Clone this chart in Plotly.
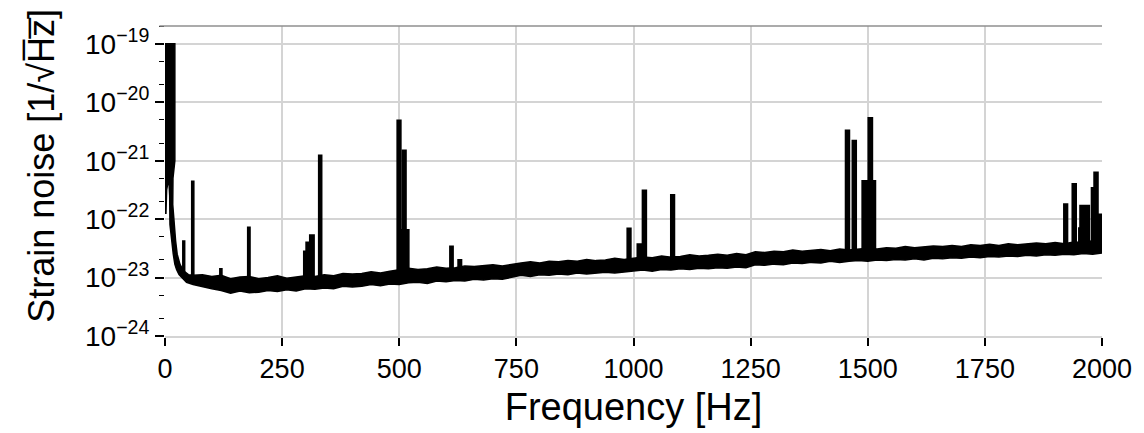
import numpy as np
import plotly.graph_objects as go

# ---------------- data ----------------
# upper edge of the noise band (frequency in Hz, log10 strain)
upper_freq = [0, 21, 21, 17, 16.5, 19, 22.6, 26, 31.8, 39, 50,
              60, 80, 100, 120, 140, 160, 180, 200, 220, 240, 260, 280, 300, 320, 340, 360,
              380, 400, 420, 440, 460, 480, 500, 520, 540, 560, 580, 600, 620, 640, 660, 680,
              700, 720, 740, 760, 780, 800, 820, 840, 860, 880, 900, 920, 940, 960, 980, 1000,
              1020, 1040, 1060, 1080, 1100, 1120, 1140, 1160, 1180, 1200, 1220, 1240, 1260,
              1280, 1300, 1320, 1340, 1360, 1380, 1400, 1420, 1440, 1460, 1480, 1500, 1520,
              1540, 1560, 1580, 1600, 1620, 1640, 1660, 1680, 1700, 1720, 1740, 1760, 1780,
              1800, 1820, 1840, 1860, 1880, 1900, 1920, 1940, 1960, 1980, 2000]
upper_log = [-19.0, -19.0, -21.0, -21.3, -21.75, -22.09, -22.37, -22.6, -22.77, -22.88, -22.95,
             -22.96, -22.95, -22.98, -22.96, -23.02, -22.99, -22.98, -23.02, -23.00, -22.97,
             -23.01, -22.99, -22.97, -22.98, -22.95, -22.97, -22.93, -22.94, -22.93, -22.90,
             -22.92, -22.89, -22.87, -22.84, -22.86, -22.85, -22.82, -22.84, -22.83, -22.80,
             -22.81, -22.80, -22.78, -22.80, -22.77, -22.75, -22.73, -22.75, -22.72, -22.73,
             -22.71, -22.72, -22.69, -22.71, -22.70, -22.67, -22.69, -22.67, -22.65, -22.66,
             -22.63, -22.65, -22.64, -22.61, -22.63, -22.62, -22.60, -22.62, -22.59, -22.61,
             -22.56, -22.57, -22.55, -22.56, -22.53, -22.55, -22.54, -22.52, -22.54, -22.51,
             -22.53, -22.52, -22.50, -22.51, -22.49, -22.50, -22.47, -22.49, -22.48, -22.46,
             -22.47, -22.45, -22.47, -22.44, -22.45, -22.43, -22.45, -22.42, -22.44, -22.43,
             -22.41, -22.42, -22.40, -22.42, -22.39, -22.40, -22.37, -22.38]
# lower edge of the noise band
lower_freq = [0, 2, 3.5, 8, 10, 10.6, 14, 17.7, 21, 24.7, 30, 35, 46,
              60, 80, 100, 120, 140, 160, 180, 200, 220, 240, 260, 280, 300, 320, 340, 360,
              380, 400, 420, 440, 460, 480, 500, 520, 540, 560, 580, 600, 620, 640, 660, 680,
              700, 720, 740, 760, 780, 800, 820, 840, 860, 880, 900, 920, 940, 960, 980, 1000,
              1020, 1040, 1060, 1080, 1100, 1120, 1140, 1160, 1180, 1200, 1220, 1240, 1260,
              1280, 1300, 1320, 1340, 1360, 1380, 1400, 1420, 1440, 1460, 1480, 1500, 1520,
              1540, 1560, 1580, 1600, 1620, 1640, 1660, 1680, 1700, 1720, 1740, 1760, 1780,
              1800, 1820, 1840, 1860, 1880, 1900, 1920, 1940, 1960, 1980, 2000]
lower_log = [-21.9, -21.9, -21.5, -21.3, -21.6, -22.09, -22.37, -22.6, -22.77, -22.86, -22.95,
             -22.99, -23.08,
             -23.12, -23.16, -23.19, -23.22, -23.27, -23.23, -23.26, -23.25, -23.22, -23.24,
             -23.21, -23.23, -23.19, -23.20, -23.18, -23.19, -23.15, -23.16, -23.15, -23.12,
             -23.14, -23.11, -23.12, -23.09, -23.08, -23.10, -23.06, -23.07, -23.05, -23.06,
             -23.03, -23.04, -23.02, -23.03, -23.00, -22.96, -22.98, -22.95, -22.96, -22.94,
             -22.95, -22.92, -22.94, -22.93, -22.91, -22.92, -22.90, -22.89, -22.87, -22.89,
             -22.86, -22.87, -22.85, -22.86, -22.84, -22.85, -22.83, -22.84, -22.82, -22.83,
             -22.78, -22.79, -22.77, -22.78, -22.75, -22.76, -22.74, -22.75, -22.72, -22.74,
             -22.72, -22.71, -22.72, -22.70, -22.71, -22.69, -22.70, -22.68, -22.70, -22.67,
             -22.68, -22.66, -22.67, -22.65, -22.66, -22.64, -22.65, -22.63, -22.64, -22.62,
             -22.63, -22.61, -22.62, -22.60, -22.61, -22.59, -22.60, -22.58]

# spectral lines: start / end frequency (Hz), peak and foot amplitude (1/sqrt(Hz))
spike_lo = [38.5, 57.5, 117.5, 177, 296.6, 301.6, 309.4, 328.5, 496, 501, 507, 608.5, 626,
            987, 1008.5, 1019.5, 1080, 1453, 1467.5, 1488.5, 1501.5, 1509, 1919, 1937, 1951,
            1953.5, 1978, 1983.5, 1988]
spike_hi = [41.5, 61, 121, 181, 301.6, 309.4, 317.8, 334, 503, 520, 514, 614.5, 632.5,
            994, 1017, 1027, 1087, 1460.5, 1475, 1498.5, 1509.5, 1516, 1926, 1944.5, 1956,
            1972.5, 1985, 1991, 1999]
spike_top = [4.2e-23, 4.4e-22, 1.4e-23, 7.2e-23, 2.8e-23, 4.0e-23, 5.3e-23, 1.23e-21, 4.9e-21,
             6.5e-23, 1.5e-21, 3.4e-23, 2.0e-23, 6.9e-23, 3.7e-23, 3.1e-22, 2.6e-22, 3.3e-21,
             2.2e-21, 4.5e-22, 5.4e-21, 4.5e-22, 1.8e-22, 4.0e-22, 7.0e-23, 1.7e-22, 3.4e-22,
             6.3e-22, 1.2e-22]
spike_base = [1.0e-23, 1.0e-23, 8e-24, 8e-24, 8e-24, 8e-24, 8e-24, 8e-24, 9e-24, 9e-24, 9e-24,
              1.0e-23, 1.0e-23, 1.5e-23, 1.5e-23, 1.5e-23, 1.6e-23, 2.2e-23, 2.2e-23, 2.2e-23,
              2.2e-23, 2.2e-23, 3.0e-23, 3.0e-23, 3.0e-23, 3.0e-23, 3.0e-23, 3.0e-23, 3.0e-23]

x_ticks = [0, 250, 500, 750, 1000, 1250, 1500, 1750, 2000]
y_ticks = [1e-24, 1e-23, 1e-22, 1e-21, 1e-20, 1e-19]
y_tick_text = ["10<sup>\u221224</sup>", "10<sup>\u221223</sup>", "10<sup>\u221222</sup>",
               "10<sup>\u221221</sup>", "10<sup>\u221220</sup>", "10<sup>\u221219</sup>"]
y_top = 2.02e-19

# ---------------- figure ----------------
FONT = "Liberation Sans, Arial, Helvetica, sans-serif"
fig = go.Figure()

band_x = list(upper_freq) + list(lower_freq)[::-1]
band_y = [10 ** v for v in upper_log] + [10 ** v for v in lower_log][::-1]
fig.add_trace(go.Scatter(x=band_x, y=band_y, mode="lines", fill="toself",
                         fillcolor="black", line=dict(color="black", width=1.5),
                         hoverinfo="skip", showlegend=False))

sx, sy = [], []
for lo, hi, top, base in zip(spike_lo, spike_hi, spike_top, spike_base):
    sx += [lo, lo, hi, hi, None]
    sy += [base, top, top, base, None]
fig.add_trace(go.Scatter(x=sx, y=sy, mode="lines", fill="toself", fillcolor="black",
                         line=dict(color="black", width=2), hoverinfo="skip",
                         showlegend=False))

GRID = "#d4d4d4"
fig.update_layout(
    width=1144, height=433,
    margin=dict(l=165, r=35, t=26, b=94),
    paper_bgcolor="white", plot_bgcolor="white",
    font=dict(family=FONT, color="black"),
    xaxis=dict(range=[0, 2000], tickvals=x_ticks, showgrid=True, gridcolor=GRID,
               gridwidth=1.5, showline=True, linecolor=GRID, linewidth=1.5,
               ticks="outside", ticklen=8, tickwidth=1.5, tickcolor="black",
               tickfont=dict(size=27, family=FONT), zeroline=False,
               title=dict(text="Frequency [Hz]", font=dict(size=38, family=FONT),
                          standoff=10)),
    yaxis=dict(type="log", range=[-24, np.log10(y_top)], tickvals=y_ticks,
               ticktext=y_tick_text, showgrid=True, gridcolor=GRID, gridwidth=1.5,
               showline=False, ticks="outside", ticklen=9, tickwidth=1.5,
               tickcolor="black", tickfont=dict(size=28, family=FONT), zeroline=False,
               minor=dict(ticks="outside", ticklen=5, tickwidth=1.2, tickcolor="black",
                          showgrid=False)),
)

# y axis line (black between the lowest and the highest decade)
fig.add_shape(type="line", xref="x", yref="y", x0=0, x1=0,
              y0=np.log10(y_ticks[0]), y1=np.log10(y_ticks[-1]),
              line=dict(color="black", width=2), layer="above")
# top frame line
fig.add_shape(type="line", xref="paper", yref="paper", x0=-0.006, x1=1, y0=1, y1=1,
              line=dict(color="#8f8f8f", width=1.5), layer="above")

fig.add_annotation(text="Strain noise [1/\u221aH\u0305z\u0305]", xref="paper", yref="paper",
                   x=-0.132, y=0.55, xanchor="center", yanchor="middle", textangle=-90,
                   showarrow=False, font=dict(size=36, family=FONT, color="black"))

fig.write_html("out.html")
